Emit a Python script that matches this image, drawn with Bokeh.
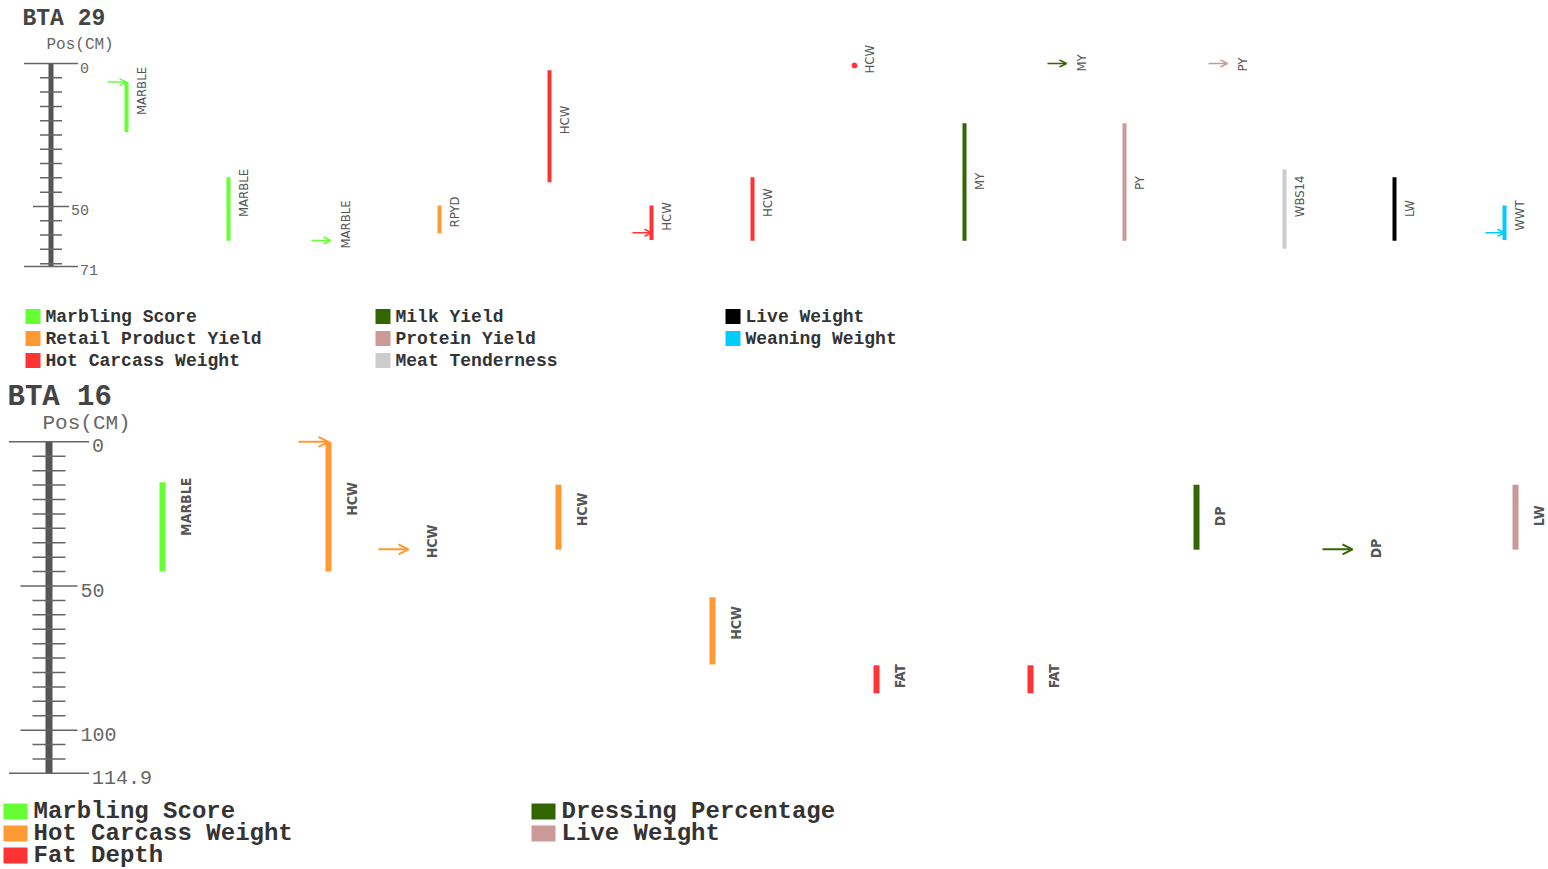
import math

from bokeh.core.properties import value
from bokeh.embed import file_html
from bokeh.layouts import column
from bokeh.models import Arrow, OpenHead, Range1d
from bokeh.plotting import figure
from bokeh.resources import INLINE

# ---------------------------------------------------------------------------
# Data: QTL intervals (cM) on two bovine chromosomes
# ---------------------------------------------------------------------------
bta29_name = "BTA 29"
bta29_length = 71
bta29_labelled_ticks = [0, 50, 71]
bta29_legend = ["Marbling Score", "Retail Product Yield", "Hot Carcass Weight",
                "Milk Yield", "Protein Yield", "Meat Tenderness",
                "Live Weight", "Weaning Weight"]
bta29_symbol = ["MARBLE", "MARBLE", "MARBLE", "RPYD", "HCW", "HCW", "HCW", "HCW",
                "MY", "MY", "PY", "PY", "WBS14", "LW", "WWT"]
bta29_trait = ["Marbling Score", "Marbling Score", "Marbling Score",
               "Retail Product Yield", "Hot Carcass Weight", "Hot Carcass Weight",
               "Hot Carcass Weight", "Hot Carcass Weight", "Milk Yield", "Milk Yield",
               "Protein Yield", "Protein Yield", "Meat Tenderness", "Live Weight",
               "Weaning Weight"]
bta29_start = [6.5, 39.8, None, 49.7, 2.4, 49.7, 39.8, 0.7, 20.9, None, 20.9, None, 37.1, 39.8, 49.7]
bta29_end = [24.0, 62.0, None, 59.4, 41.5, 61.7, 62.0, 0.7, 62.0, None, 62.0, None, 64.8, 62.0, 61.7]
bta29_peak = [6.5, None, 61.9, None, None, 59.2, None, None, None, 0.0, None, 0.0, None, None, 59.2]

bta16_name = "BTA 16"
bta16_length = 114.9
bta16_labelled_ticks = [0, 50, 100, 114.9]
bta16_legend = ["Marbling Score", "Hot Carcass Weight", "Fat Depth",
                "Dressing Percentage", "Live Weight"]
bta16_symbol = ["MARBLE", "HCW", "HCW", "HCW", "HCW", "FAT", "FAT", "DP", "DP", "LW"]
bta16_trait = ["Marbling Score", "Hot Carcass Weight", "Hot Carcass Weight",
               "Hot Carcass Weight", "Hot Carcass Weight", "Fat Depth", "Fat Depth",
               "Dressing Percentage", "Dressing Percentage", "Live Weight"]
bta16_start = [14.0, 0.0, None, 14.9, 53.9, 77.5, 77.5, 14.9, None, 14.9]
bta16_end = [45.0, 45.0, None, 37.4, 77.2, 87.2, 87.2, 37.4, None, 37.4]
bta16_peak = [None, 0.0, 37.3, None, None, None, None, None, 37.3, None]

# ---------------------------------------------------------------------------
# Styling / layout
# ---------------------------------------------------------------------------
WIDTH = 1548
MONO = "Liberation Mono"
NARROW = "DejaVu Sans Condensed, Liberation Sans Narrow, Liberation Sans"
LABEL_GREY = "#555555"

bta29_palette = ["#66FF33", "#FF9933", "#FF3333", "#336600", "#CC9999",
                 "#CCCCCC", "#000000", "#00CCFF"]
bta16_palette = ["#66FF33", "#FF9933", "#FF3333", "#336600", "#CC9999"]

top_style = dict(
    height=300, origin=63.0, ppc=2.859,
    tracks=[126, 228, 330, 439, 549, 651, 752, 854, 964, 1066, 1124, 1227, 1284, 1394, 1504],
    ruler_x=50.5, ruler_w=5, tick_half=(11, 18, 27), tick_gap=2,
    tick_font="15px", title_xy=(22, 18), title_font="23px",
    axis_title_xy=(46, 44), axis_title_font="16px",
    bar_w=4, dot_size=5, arrow_len=19, arrow_head=7, arrow_w=1.5,
    label_dx=15, label_dy=8, label_font="13px", label_style="normal",
    tick_label_dy=4,
)
bottom_style = dict(
    height=417, origin=63.3, ppc=2.884,
    tracks=[162, 328, 408, 558, 712, 876, 1030, 1196, 1352, 1515],
    ruler_x=48.5, ruler_w=7, tick_half=(16.5, 28.5, 40), tick_gap=3,
    tick_font="20px", title_xy=(7, 19), title_font="29px",
    axis_title_xy=(42, 45), axis_title_font="21px",
    bar_w=6, dot_size=6, arrow_len=30, arrow_head=10, arrow_w=2,
    label_dx=23, label_dy=9, label_font="14px", label_style="bold",
    tick_label_dy=4,
)


def chromosome_panel(name, length, labelled, symbols, traits, starts, ends, peaks,
                     legend, palette, st):
    h = st["height"]
    o, k = st["origin"], st["ppc"]

    def cm_at(py):
        return (py - o) / k

    p = figure(width=WIDTH, height=h, x_range=Range1d(0, WIDTH),
               y_range=Range1d(start=cm_at(h), end=cm_at(0)),
               output_backend="svg", toolbar_location=None, min_border=0,
               x_axis_type=None, y_axis_type=None, outline_line_color=None,
               background_fill_color="white", border_fill_color="white")
    p.grid.visible = False

    # chromosome title and axis caption
    p.text(x=[st["title_xy"][0]], y=[cm_at(st["title_xy"][1])], text=[name],
           text_font=value(MONO), text_font_style="bold", text_font_size=st["title_font"],
           text_color="#444444", text_baseline="middle", text_align="left")
    p.text(x=[st["axis_title_xy"][0]], y=[cm_at(st["axis_title_xy"][1])], text=["Pos(CM)"],
           text_font=value(MONO), text_font_size=st["axis_title_font"],
           text_color="#666666", text_baseline="middle", text_align="left")

    # ruler
    cx = st["ruler_x"]
    p.segment(x0=[cx], y0=[0], x1=[cx], y1=[length], line_width=st["ruler_w"],
              line_color="#555555")
    minor_h, major_h, end_h = st["tick_half"]
    minor = [v for v in range(5, int(length) + 1, 5) if v not in labelled]
    p.segment(x0=[cx - minor_h] * len(minor), y0=minor, x1=[cx + minor_h] * len(minor),
              y1=minor, line_width=1.5, line_color="#666666")
    halves = [end_h if v in (0, length) else major_h for v in labelled]
    p.segment(x0=[cx - hh for hh in halves], y0=labelled,
              x1=[cx + hh for hh in halves], y1=labelled,
              line_width=1.5, line_color="#666666")
    p.text(x=[cx + hh + st["tick_gap"] for hh in halves], y=labelled,
           text=[("%g" % v) for v in labelled], y_offset=st["tick_label_dy"],
           text_font=value(MONO), text_font_size=st["tick_font"], text_color="#666666",
           text_baseline="middle", text_align="left")

    colour = {t: c for t, c in zip(legend, palette)}
    tracks = st["tracks"]

    # QTL confidence intervals
    bx, b0, b1, bc = [], [], [], []
    dx, dy, dc = [], [], []
    for x, t, s, e in zip(tracks, traits, starts, ends):
        if s is None:
            continue
        if e > s:
            bx.append(x); b0.append(s); b1.append(e); bc.append(colour[t])
        else:
            dx.append(x); dy.append(s); dc.append(colour[t])
    p.segment(x0=bx, y0=b0, x1=bx, y1=b1, line_color=bc, line_width=st["bar_w"])
    if dx:
        p.scatter(x=dx, y=dy, color=dc, size=st["dot_size"], marker="circle")

    # peak markers
    for x, t, pk in zip(tracks, traits, peaks):
        if pk is None:
            continue
        c = colour[t]
        p.add_layout(Arrow(end=OpenHead(size=st["arrow_head"], line_color=c,
                                        line_width=st["arrow_w"]),
                           x_start=x - st["arrow_len"], y_start=pk, x_end=x, y_end=pk,
                           line_color=c, line_width=st["arrow_w"]))

    # QTL symbols
    lx, ly, lt = [], [], []
    for x, sym, s, e, pk in zip(tracks, symbols, starts, ends, peaks):
        anchor = (s + e) / 2 if s is not None else pk
        lx.append(x); ly.append(anchor); lt.append(sym)
    p.text(x=lx, y=ly, text=lt, angle=math.pi / 2, x_offset=st["label_dx"],
           y_offset=st["label_dy"], text_font=value(NARROW),
           text_font_style=st["label_style"], text_font_size=st["label_font"],
           text_color=LABEL_GREY, text_align="left", text_baseline="middle")
    return p


def legend_panel(names, palette, height, first_row, pitch, cols, swatch, text_dx, font):
    p = figure(width=WIDTH, height=height, x_range=Range1d(0, WIDTH),
               y_range=Range1d(start=(height - first_row) / pitch, end=-first_row / pitch),
               output_backend="svg", toolbar_location=None, min_border=0,
               x_axis_type=None, y_axis_type=None, outline_line_color=None)
    p.grid.visible = False
    xs = [cols[i // 3] for i in range(len(names))]
    rows = [i % 3 for i in range(len(names))]
    p.rect(x=[x + swatch[0] / 2 for x in xs], y=rows, width=swatch[0], height=swatch[1],
           width_units="screen", height_units="screen", fill_color=palette,
           line_color=None)
    p.text(x=[x + text_dx for x in xs], y=rows, text=names, text_font=value(MONO),
           text_font_style="bold", text_font_size=font, text_color="#333333",
           text_baseline="middle", text_align="left")
    return p


top = chromosome_panel(bta29_name, bta29_length, bta29_labelled_ticks, bta29_symbol,
                       bta29_trait, bta29_start, bta29_end, bta29_peak,
                       bta29_legend, bta29_palette, top_style)
top_key = legend_panel(bta29_legend, bta29_palette, 78, 16, 22, [25, 375, 725],
                       (15, 15), 20, "18px")
bottom = chromosome_panel(bta16_name, bta16_length, bta16_labelled_ticks, bta16_symbol,
                          bta16_trait, bta16_start, bta16_end, bta16_peak,
                          bta16_legend, bta16_palette, bottom_style)
bottom_key = legend_panel(bta16_legend, bta16_palette, 74, 16, 22, [3, 531],
                          (24, 16), 30, "24px")

layout = column(top, top_key, bottom, bottom_key, spacing=0)
open("out.html", "w").write(file_html(layout, INLINE))
